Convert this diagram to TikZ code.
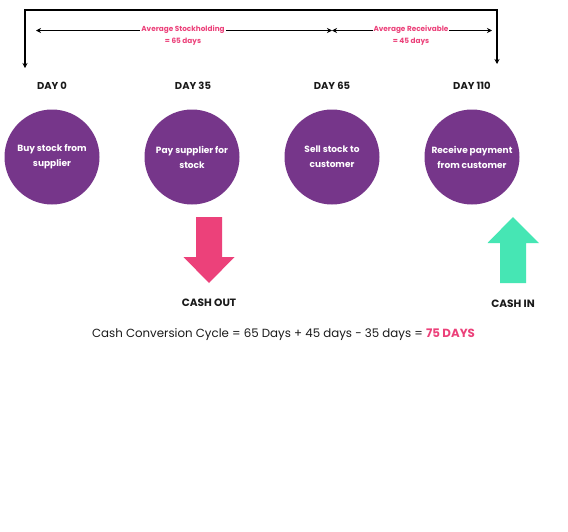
\documentclass[tikz,border=0pt]{standalone}
\usepackage{fontspec}
\setmainfont{Poppins}
\usetikzlibrary{arrows.meta,shapes.arrows}
\definecolor{cpurple}{HTML}{76368A}
\definecolor{cpink}{HTML}{EC417A}
\definecolor{cgreen}{HTML}{46E6B4}
\definecolor{ctext}{HTML}{1A1A1A}
\tikzset{
  stage/.style={circle,fill=cpurple,minimum size=95pt,inner sep=0pt,text=white,align=center,font=\fontsize{9}{15}\selectfont\bfseries},
  daylbl/.style={font=\fontsize{10}{12}\selectfont\bfseries,text=ctext},
  span/.style={font=\fontsize{7.3}{12.5}\selectfont\bfseries,text=cpink,align=center,fill=white,inner sep=1pt},
  conn/.style={draw=black,line width=1.2pt,-{Stealth[length=5pt,width=5pt]}},
  cashlbl/.style={font=\fontsize{10.6}{12}\selectfont\bfseries,text=ctext},
}
\begin{document}
\begin{tikzpicture}[x=1pt,y=-1pt]
\useasboundingbox[fill=white] (0,0) rectangle (568,531);
% stage circles
\node[stage] (c1) at (52,157) {Buy stock from\\supplier};
\node[stage] (c2) at (192,157) {Pay supplier for\\stock};
\node[stage] (c3) at (332,157) {Sell stock to\\customer};
\node[stage] (c4) at (472,157) {Receive payment\\from customer};
% day labels
\node[daylbl] (d1) at (52,86) {DAY 0};
\node[daylbl] (d2) at (193,86) {DAY 35};
\node[daylbl] (d3) at (332,86) {DAY 65};
\node[daylbl] (d4) at (472,86) {DAY 110};
% top bracket
\coordinate (tl) at (25,10);
\coordinate (tr) at (497,10);
\coordinate (bl) at (25,68);
\coordinate (br) at (497,64);
\draw[conn] (tr) -- (tl) -- (bl);
\draw[conn] (tl) -- (tr) -- (br);
% span arrows
\coordinate (a1) at (36,30.5);
\coordinate (a2) at (332,30.5);
\coordinate (a3) at (492,30.5);
\draw[conn,{Stealth[length=5pt,width=5pt]}-{Stealth[length=5pt,width=5pt]}] (a1) -- (a2);
\draw[conn,{Stealth[length=5pt,width=5pt]}-{Stealth[length=5pt,width=5pt]}] (a2) -- (a3);
\node[span] (s1) at (183,35.5) {Average Stockholding\\= 65 days};
\node[span] (s2) at (411,35.5) {Average Receivable\\= 45 days};
% cash arrows
\fill[cpink] (196,217) -- (222,217) -- (222,257) -- (234.5,257) -- (209,283) -- (183.5,257) -- (196,257) -- cycle;
\fill[cgreen] (500,283) -- (526,283) -- (526,243) -- (539,243) -- (513,217) -- (487.5,243) -- (500,243) -- cycle;
\node[cashlbl] (co) at (209,303) {CASH OUT};
\node[cashlbl] (ci) at (513,304) {CASH IN};
% formula
\node[font=\fontsize{11.8}{14}\selectfont,text=ctext] (f) at (283.5,335) {Cash Conversion Cycle = 65 Days + 45 days - 35 days = \textcolor{cpink}{\bfseries 75 DAYS}};
\end{tikzpicture}
\end{document}
